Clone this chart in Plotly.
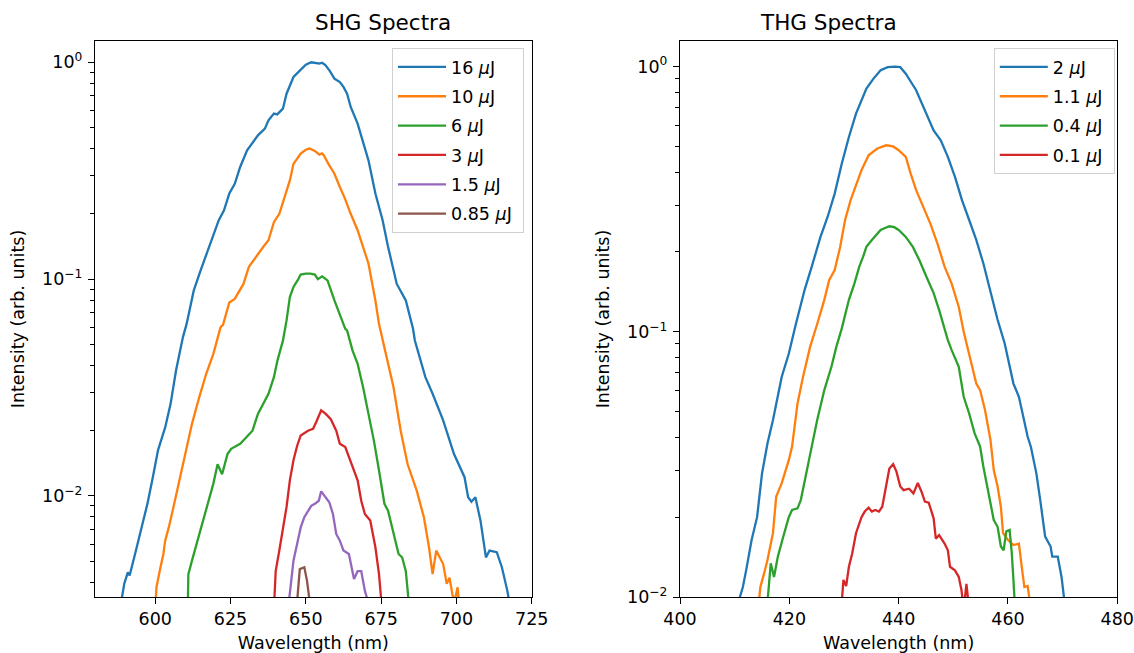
import plotly.graph_objects as go

# ---------------- data ----------------
shg_labels = ["16 <i>μ</i>J", "10 <i>μ</i>J", "6 <i>μ</i>J", "3 <i>μ</i>J", "1.5 <i>μ</i>J", "0.85 <i>μ</i>J"]
thg_labels = ["2 <i>μ</i>J", "1.1 <i>μ</i>J", "0.4 <i>μ</i>J", "0.1 <i>μ</i>J"]

shg16_wl = [588.3, 589.7, 590.9, 591.5, 593.3, 595.0, 597.4, 599.2, 600.9, 603.3, 605.1, 606.9, 609.2, 610.4, 612.8,
            615.1, 617.5, 619.3, 621.1, 622.8, 624.6, 626.4, 628.2, 630.5, 631.7, 634.1, 636.4, 637.6, 639.4, 640.5,
            642.4, 643.6, 645.9, 648.0, 650.0, 651.8, 653.5, 654.5, 655.4, 656.5, 658.0, 659.5, 661.3, 662.5, 663.7,
            664.9, 667.2, 669.6, 670.8, 673.1, 675.5, 677.3, 680.2, 683.2, 685.6, 686.2, 689.7, 692.1, 695.6, 699.2,
            702.7, 703.9, 705.0, 706.3, 708.0, 709.8, 711.0, 713.4, 715.1, 716.9, 718.0]
shg16_int = [0.0030, 0.00393, 0.00444, 0.0043, 0.0054, 0.00668, 0.00919, 0.0122, 0.0162, 0.0207, 0.0266, 0.0379, 0.054,
             0.062, 0.0887, 0.11, 0.136, 0.156, 0.187, 0.207, 0.248, 0.275, 0.329, 0.393, 0.414, 0.46, 0.494, 0.54, 0.58,
             0.575, 0.611, 0.716, 0.855, 0.92, 0.975, 1.0, 0.99, 0.985, 0.995, 0.97, 0.91, 0.84, 0.81, 0.77, 0.716,
             0.622, 0.521, 0.407, 0.353, 0.248, 0.187, 0.141, 0.095, 0.0797, 0.059, 0.0521, 0.0353, 0.0296, 0.0223,
             0.0156, 0.0122, 0.00986, 0.0094, 0.00986, 0.00769, 0.00521, 0.0056, 0.0055, 0.00469, 0.00366, 0.0030]

shg10_wl = [600.0, 600.4, 601.5, 602.7, 603.3, 604.5, 606.3, 608.0, 609.8, 612.2, 614.6, 616.9, 619.3, 621.7, 622.5,
            624.6, 626.4, 629.3, 631.1, 632.9, 635.9, 637.6, 639.4, 641.2, 643.0, 644.7, 645.9, 648.3, 650.0, 651.2,
            653.0, 654.5, 655.4, 656.0, 657.5, 659.5, 661.3, 663.0, 664.9, 667.2, 670.8, 673.1, 674.3, 675.5, 677.3,
            679.1, 681.5, 683.8, 686.8, 689.2, 690.9, 692.1, 693.3, 694.5, 695.6, 696.8, 697.7, 699.2, 700.4, 701.0]
shg10_int = [0.0030, 0.00379, 0.00452, 0.0054, 0.00622, 0.00716, 0.0092, 0.0118, 0.0156, 0.0215, 0.0285, 0.0365, 0.0452,
             0.060, 0.0615, 0.078, 0.081, 0.095, 0.114, 0.124, 0.141, 0.151, 0.183, 0.2, 0.239, 0.285, 0.34, 0.379,
             0.395, 0.40, 0.39, 0.375, 0.38, 0.372, 0.34, 0.306, 0.266, 0.235, 0.2, 0.168, 0.118, 0.0797, 0.062,
             0.052, 0.0407, 0.0318, 0.02, 0.014, 0.0106, 0.00798, 0.0058, 0.00436, 0.0056, 0.0052, 0.00485, 0.00393,
             0.0042, 0.0032, 0.00379, 0.0030]

shg6_wl = [610.8, 611.0, 612.2, 614.0, 615.7, 617.5, 619.3, 620.7, 622.2, 624.0, 625.2, 628.2, 630.5, 632.3, 634.1,
           635.9, 637.6, 639.4, 640.6, 642.4, 643.6, 644.7, 645.9, 647.5, 648.3, 650.0, 651.5, 653.0, 654.0, 655.4,
           657.2, 659.5, 661.3, 663.1, 663.7, 665.5, 667.2, 669.0, 670.8, 672.6, 674.3, 676.1, 677.3, 679.1, 680.8,
           682.0, 683.2, 684.4]
shg6_int = [0.0030, 0.00436, 0.00503, 0.0062, 0.0077, 0.0095, 0.0114, 0.0140, 0.0126, 0.0156, 0.0165, 0.0174, 0.0187,
            0.02, 0.0239, 0.0266, 0.0296, 0.0353, 0.0422, 0.052, 0.0645, 0.0826, 0.092, 0.1, 0.105, 0.106, 0.106,
            0.105, 0.1, 0.103, 0.0986, 0.0797, 0.069, 0.059, 0.058, 0.0469, 0.0407, 0.0318, 0.0239, 0.018, 0.0131,
            0.0092, 0.00855, 0.00668, 0.0054, 0.0052, 0.0045, 0.0030]

shg3_wl = [639.4, 640.0, 641.2, 642.4, 643.6, 644.7, 645.9, 647.1, 648.3, 650.7, 652.4, 653.5, 655.1, 656.6, 658.3,
           660.1, 661.3, 663.1, 664.3, 665.5, 667.2, 668.4, 669.6, 671.4, 673.1, 674.3, 675.3]
shg3_int = [0.0030, 0.0045, 0.0056, 0.00716, 0.0089, 0.0118, 0.0146, 0.017, 0.019, 0.02, 0.0204, 0.022, 0.0248, 0.0239,
            0.0226, 0.02, 0.0174, 0.0168, 0.0151, 0.0135, 0.0118, 0.0095, 0.00826, 0.0077, 0.0058, 0.00436, 0.0030]

shg15_wl = [644.1, 645.3, 645.9, 647.1, 648.3, 649.5, 650.7, 651.8, 653.0, 654.3, 655.1, 656.6, 657.8, 659.0, 660.1,
            661.3, 662.5, 664.3, 665.5, 666.0, 667.2, 668.4, 669.6, 671.4]
shg15_int = [0.0030, 0.00436, 0.00503, 0.006, 0.00716, 0.00798, 0.00855, 0.009, 0.0092, 0.0095, 0.0105, 0.00986,
             0.00935, 0.00826, 0.00668, 0.00622, 0.0056, 0.0054, 0.0045, 0.00414, 0.0045, 0.0045, 0.00366, 0.0030]

shg085_wl = [646.9, 648.0, 649.5, 650.4, 651.6]
shg085_int = [0.0030, 0.0046, 0.00469, 0.00406, 0.0030]

thg2_wl = [410.3, 411.5, 412.1, 413.1, 414.1, 415.0, 416.0, 417.0, 418.6, 419.9, 421.2, 422.8, 424.1, 425.7, 427.0,
           428.3, 429.6, 430.9, 432.2, 433.2, 434.1, 435.4, 436.7, 438.0, 439.3, 440.3, 441.3, 443.2, 444.8, 446.4,
           447.7, 449.0, 450.3, 451.6, 452.9, 454.2, 455.5, 456.8, 458.1, 459.4, 460.4, 461.0, 462.0, 463.0, 463.6,
           464.2, 465.2, 465.9, 466.8, 467.8, 468.1, 469.1, 469.8, 470.5]
thg2_int = [0.009, 0.0109, 0.0126, 0.0164, 0.02, 0.0292, 0.0379, 0.0464, 0.0676, 0.0826, 0.107, 0.144, 0.176, 0.228,
            0.271, 0.332, 0.431, 0.543, 0.665, 0.747, 0.826, 0.901, 0.969, 0.995, 1.0, 0.995, 0.94, 0.815, 0.684,
            0.575, 0.527, 0.457, 0.384, 0.313, 0.264, 0.222, 0.181, 0.14, 0.111, 0.0904, 0.0716, 0.0638, 0.0569,
            0.0464, 0.0402, 0.0368, 0.0292, 0.0232, 0.0169, 0.0155, 0.0142, 0.0142, 0.0119, 0.009]

thg11_wl = [414.3, 414.7, 415.4, 416.0, 417.0, 417.6, 418.6, 419.9, 420.5, 421.5, 422.5, 423.8, 425.1, 426.4, 427.3,
            428.3, 429.3, 430.2, 431.2, 432.2, 433.2, 434.5, 436.1, 437.7, 439.0, 440.0, 441.3, 442.2, 443.2, 444.5,
            445.8, 447.1, 448.4, 449.7, 451.0, 451.9, 453.2, 454.2, 454.9, 455.8, 456.8, 457.4, 458.1, 458.7, 459.1,
            460.0, 461.0, 462.0, 462.6, 463.0, 463.6, 464.2]
thg11_int = [0.009, 0.0109, 0.0123, 0.0138, 0.0174, 0.0239, 0.0268, 0.0328, 0.0369, 0.0537, 0.0676, 0.0877, 0.107,
             0.132, 0.157, 0.171, 0.209, 0.264, 0.313, 0.357, 0.407, 0.463, 0.491, 0.505, 0.5, 0.484, 0.457, 0.395,
             0.342, 0.296, 0.256, 0.215, 0.176, 0.152, 0.124, 0.1, 0.0782, 0.0638, 0.0603, 0.0507, 0.0391, 0.0301,
             0.0261, 0.0219, 0.0174, 0.0164, 0.0157, 0.0159, 0.0126, 0.0109, 0.011, 0.009]

thg04_wl = [415.9, 416.6, 417.2, 417.9, 418.9, 419.9, 420.5, 421.5, 422.1, 422.8, 423.1, 424.1, 425.1, 426.4, 427.7,
            428.6, 429.6, 430.9, 431.9, 432.8, 433.5, 434.1, 435.1, 436.1, 436.7, 438.3, 439.2, 440.0, 441.3, 442.6,
            443.8, 445.1, 446.4, 447.4, 448.4, 449.0, 449.7, 451.0, 451.9, 452.9, 453.9, 454.9, 455.5, 456.5, 457.4,
            458.1, 458.7, 459.2, 459.7, 460.3, 460.7, 461.0, 461.3]
thg04_int = [0.009, 0.0134, 0.0119, 0.0142, 0.0169, 0.02, 0.0213, 0.0216, 0.0232, 0.0276, 0.0292, 0.0369, 0.0465,
             0.0603, 0.0738, 0.0877, 0.103, 0.132, 0.152, 0.176, 0.192, 0.209, 0.222, 0.235, 0.242, 0.25, 0.248,
             0.242, 0.228, 0.209, 0.186, 0.161, 0.14, 0.121, 0.103, 0.093, 0.0853, 0.0738, 0.0569, 0.0492, 0.0414,
             0.0369, 0.031, 0.0245, 0.0195, 0.0184, 0.0155, 0.0150, 0.0177, 0.0179, 0.0146, 0.0116, 0.009]

thg01_wl = [429.5, 429.9, 430.4, 430.9, 431.5, 432.2, 433.2, 433.8, 434.5, 435.1, 435.7, 436.4, 437.0, 437.7, 438.3,
            439.0, 439.6, 440.3, 440.9, 441.9, 442.7, 443.5, 444.2, 444.8, 445.5, 446.4, 446.8, 447.4, 448.4, 449.0,
            449.4, 450.3, 451.0, 451.5, 451.9, 452.4, 452.9]
thg01_int = [0.009, 0.0116, 0.0110, 0.013, 0.0146, 0.0174, 0.02, 0.021, 0.0217, 0.021, 0.0213, 0.021, 0.0219, 0.0261,
             0.0305, 0.0317, 0.0297, 0.0261, 0.0253, 0.0256, 0.0246, 0.0269, 0.0249, 0.0229, 0.0227, 0.0198, 0.0166,
             0.0171, 0.0159, 0.015, 0.013, 0.0126, 0.0119, 0.0106, 0.009, 0.0112, 0.009]

shg_xticks = [600, 625, 650, 675, 700, 725]
thg_xticks = [400, 420, 440, 460, 480]
shg_xrange = [580, 725]
thg_xrange = [400, 480]
shg_ylog_range = [-2.466, 0.098]
thg_ylog_range = [-2.0, 0.0966]
ytick_vals = [0.01, 0.1, 1]
ytick_text = ["10<sup>−2</sup>", "10<sup>−1</sup>", "10<sup>0</sup>"]
minor_vals = [m * d for d in (0.001, 0.01, 0.1) for m in range(2, 10)]

colors = ["#1f77b4", "#ff7f0e", "#2ca02c", "#d62728", "#9467bd", "#8c564b"]

# ---------------- figure ----------------
OFF = 0  # page body margin is removed by the post script below
W, H = 1134 - OFF, 653 - OFF
FONT = "DejaVu Sans, Liberation Sans, sans-serif"
FS = 17.5


def px(x):
    return (x - OFF) / W


def py(y):
    return 1 - (y - OFF) / H


fig = go.Figure()

shg = [(shg16_wl, shg16_int), (shg10_wl, shg10_int), (shg6_wl, shg6_int),
       (shg3_wl, shg3_int), (shg15_wl, shg15_int), (shg085_wl, shg085_int)]
thg = [(thg2_wl, thg2_int), (thg11_wl, thg11_int), (thg04_wl, thg04_int), (thg01_wl, thg01_int)]

for i, (wl, it) in enumerate(shg):
    fig.add_trace(go.Scatter(x=wl, y=it, mode="lines", name=shg_labels[i] + "\u00a0", legendgroup="s%d" % i,
                             line=dict(color=colors[i], width=2.3),
                             xaxis="x", yaxis="y", legend="legend"))
for i, (wl, it) in enumerate(thg):
    fig.add_trace(go.Scatter(x=wl, y=it, mode="lines", name=thg_labels[i] + "\u00a0", legendgroup="t%d" % i,
                             line=dict(color=colors[i], width=2.3),
                             xaxis="x2", yaxis="y2", legend="legend2"))

axis_common = dict(showline=True, mirror=True, linecolor="black", linewidth=1.2,
                   ticks="outside", ticklen=6, tickwidth=1.2, tickcolor="black",
                   showgrid=False, zeroline=False, automargin=False, ticklabeloverflow="allow",
                   tickfont=dict(family=FONT, size=FS, color="black"),
                   title_font=dict(family=FONT, size=FS, color="black"))

dom_y = [py(597), py(41)]
minor_style = dict(tickvals=minor_vals, ticks="outside", ticklen=3.5, tickwidth=1, tickcolor="black")
legend_style = dict(y=py(48), xanchor="right", yanchor="top", tracegroupgap=3.6,
                    bgcolor="rgba(255,255,255,0.8)", bordercolor="#d0d0d0", borderwidth=1,
                    itemwidth=48, font=dict(family=FONT, size=FS, color="black"))
fig.update_layout(
    width=W, height=H,
    margin=dict(l=0, r=0, t=0, b=0, autoexpand=False),
    paper_bgcolor="white", plot_bgcolor="white",
    font=dict(family=FONT, size=FS, color="black"),
    xaxis=dict(domain=[px(95), px(531.7)], range=shg_xrange, tickvals=shg_xticks, anchor="y",
               title=dict(text="Wavelength (nm)", standoff=9), **axis_common),
    yaxis=dict(domain=dom_y, type="log", range=shg_ylog_range, tickvals=ytick_vals, ticktext=ytick_text,
               anchor="x", title=dict(text="Intensity (arb. units)", standoff=12), ticklabelstandoff=2,
               minor=minor_style, **axis_common),
    xaxis2=dict(domain=[px(680), px(1117.3)], range=thg_xrange, tickvals=thg_xticks, anchor="y2",
                title=dict(text="Wavelength (nm)", standoff=9), **axis_common),
    yaxis2=dict(domain=dom_y, type="log", range=thg_ylog_range, tickvals=ytick_vals, ticktext=ytick_text,
                anchor="x2", title=dict(text="Intensity (arb. units)", standoff=12), ticklabelstandoff=2,
                minor=minor_style, **axis_common),
    legend=dict(x=px(524), **legend_style),
    legend2=dict(x=px(1114.8), **legend_style),
    annotations=[
        dict(text="SHG Spectra", x=px((95 + 531.7) / 2), y=py(23), xref="paper", yref="paper",
             showarrow=False, font=dict(family=FONT, size=21.5, color="black"), yanchor="middle"),
        dict(text="THG Spectra", x=px((680 + 1117.3) / 2), y=py(23), xref="paper", yref="paper",
             showarrow=False, font=dict(family=FONT, size=21.5, color="black"), yanchor="middle"),
    ],
)

fig.write_html("out.html", config={"displayModeBar": False},
               post_script="document.body.style.margin='0px';")
